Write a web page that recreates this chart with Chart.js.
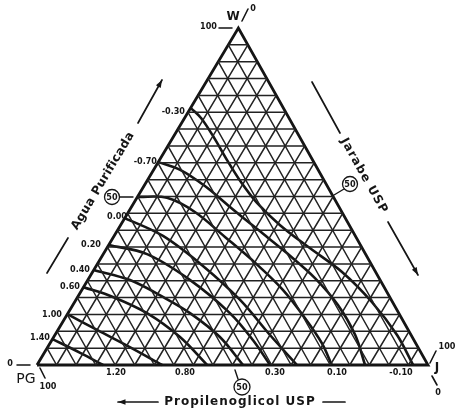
<!DOCTYPE html>
<html><head><meta charset="utf-8">
<script src="https://cdn.jsdelivr.net/npm/chart.js@4.4.0/dist/chart.umd.min.js"></script>
<style>html,body{margin:0;padding:0;background:#fff;}canvas{display:block;}</style>
</head><body>
<canvas id="c" width="458" height="413"></canvas>
<script>
// Ternary grid: every 5 %
const gridSteps = [5,10,15,20,25,30,35,40,45,50,55,60,65,70,75,80,85,90,95];
// Contour curves as compositions [Agua (W) %, Jarabe (J) %]; PG = 100 - W - J
const contourM030 = [[76.3,0],[73.3,4.2],[67.4,10.6],[60.8,17.3],[54.3,24.2],[48.1,31.5],[41.5,40.8],[34.7,51.9],[27.6,63.8],[18.7,76.0],[8.9,87.5],[0,96.2]];
const contourM070 = [[60.2,0],[57.9,6.8],[53.1,15.6],[46.9,25.2],[40.1,35.9],[33.2,46.8],[25.8,57.8],[17.8,67.8],[8.9,76.8],[0,83.9]];
const contour50 = [[49.9,0],[49.6,7.7],[45.4,17.0],[38.0,28.5],[30.3,40.2],[22.3,51.4],[13.9,61.4],[6.5,69.5],[0,75.4]];
const contour000 = [[43.6,0],[38.3,12.5],[29.4,27.3],[19.3,42.0],[8.9,55.0],[0,66.5]];
const contour020 = [[35.6,0],[32.9,11.2],[25.2,26.2],[15.4,41.4],[7.4,51.4],[0,59.6]];
const contour040 = [[28.2,0],[25.2,10.8],[20.2,21.8],[15.4,31.2],[8.3,42.5],[0,52.7]];
const contour060 = [[23.1,0],[20.2,9.0],[15.4,20.2],[8.3,32.3],[0,43.5]];
const contour100 = [[15.1,0],[10.4,10.0],[5.3,21.0],[0,32.0]];
const contour140 = [[7.7,0],[3.6,9.2],[0,16.9]];
const contours = [contourM030, contourM070, contour50, contour000, contour020, contour040, contour060, contour100, contour140];
// Edge labels
const leftLabels = ['-0.30','-0.70','0.00','0.20','0.40','0.60','1.00','1.40'];
const bottomLabels = ['1.20','0.80','0.30','0.10','-0.10'];
const axisTitles = ['Agua Purificada','Jarabe USP','Propilenoglicol USP'];
const vertexNames = ['W','J','PG'];

const APEX = 0.515; // horizontal position of the W vertex (scan is slightly skewed)
function tern(w, j){ return {x: j + w*APEX, y: w}; }

function family(fn){
  const pts = [];
  gridSteps.forEach(k => { const s = fn(k); pts.push(tern(s[0][0], s[0][1]), tern(s[1][0], s[1][1]), {x:null, y:null}); });
  return pts;
}
const gridW = family(k => [[k,0],[k,100-k]]);
const gridJ = family(k => [[0,k],[100-k,k]]);
const gridP = family(k => [[0,100-k],[100-k,0]]);
const outline = [tern(0,0), tern(0,100), tern(100,0), tern(0,0)];

const INK = '#151515';
const datasets = [];
[gridW, gridJ, gridP].forEach(d => datasets.push({data:d, showLine:true, borderColor:'#222', borderWidth:1.5, pointRadius:0, tension:0, spanGaps:false, clip:false}));
contours.forEach(c => datasets.push({data:c.map(p => tern(p[0], p[1])), showLine:true, borderColor:INK, borderWidth:2.6, pointRadius:0, tension:0.35, clip:false}));
datasets.push({data:outline, showLine:true, borderColor:INK, borderWidth:2.8, pointRadius:0, tension:0, clip:false});

const FONTN = "bold 9px 'DejaVu Sans Condensed','DejaVu Sans',sans-serif";
const FONTT = "bold 12px 'DejaVu Sans',sans-serif";

const deco = {
  id:'deco',
  afterDatasetsDraw(chart){
    const ctx = chart.ctx;
    ctx.save();
    ctx.fillStyle = INK; ctx.strokeStyle = INK; ctx.lineCap = 'round';
    const text = (t,x,y,font,align,sp) => { ctx.font = font; ctx.letterSpacing = sp || '0px'; ctx.textAlign = align || 'center'; ctx.textBaseline = 'middle'; ctx.fillText(t,x,y); ctx.letterSpacing = '0px'; };
    const line = (x1,y1,x2,y2,w) => { ctx.lineWidth = w || 1.6; ctx.beginPath(); ctx.moveTo(x1,y1); ctx.lineTo(x2,y2); ctx.stroke(); };
    const arrow = (x1,y1,x2,y2) => {
      line(x1,y1,x2,y2,1.7);
      const a = Math.atan2(y2-y1, x2-x1), s = 8;
      ctx.beginPath(); ctx.moveTo(x2,y2);
      ctx.lineTo(x2 - s*Math.cos(a-0.35), y2 - s*Math.sin(a-0.35));
      ctx.lineTo(x2 - s*Math.cos(a+0.35), y2 - s*Math.sin(a+0.35));
      ctx.closePath(); ctx.fill();
    };
    const circ = (x,y,r) => { ctx.lineWidth = 1.3; ctx.beginPath(); ctx.arc(x,y,r,0,2*Math.PI); ctx.stroke(); text('50',x,y+0.5,FONTN); };
    const rot = (t,x,y,ang,font,sp) => { ctx.save(); ctx.translate(x,y); ctx.rotate(ang); text(t,0,0,font,'center',sp); ctx.restore(); };

    // left edge labels
    const lp = [[185,112],[157,162],[127,217],[101,245],[90,270],[80,287],[62,315],[50,338]];
    leftLabels.forEach((t,i) => text(t, lp[i][0], lp[i][1], FONTN, 'right'));
    // bottom labels
    const bp = [116,185,275,337,401];
    bottomLabels.forEach((t,i) => text(t, bp[i], 373, FONTN));

    // vertex W
    text('100', 217, 27, FONTN, 'right'); line(219,28,232,28,1.5);
    text(vertexNames[0], 233, 17, "bold 12px 'DejaVu Sans',sans-serif");
    line(242,21,248,9,1.6); text('0', 253, 9, FONTN);
    // vertex PG
    text('0', 10, 364, FONTN); line(17,365,30,365,1.5);
    text(vertexNames[2], 26, 379, "14px 'DejaVu Sans',sans-serif");
    line(40,368,45,378,1.6); text('100', 48, 387, FONTN);
    // vertex J
    line(430,363,436,351,1.6); text('100', 447, 347, FONTN);
    text(vertexNames[1], 437, 368, "bold 12px 'DejaVu Sans',sans-serif");
    line(432,376,437,385,1.6); text('0', 438, 393, FONTN);

    // left axis title
    line(47,273,68,238,1.7); arrow(138,123,162,80);
    rot(axisTitles[0], 103, 181, -59.2*Math.PI/180, FONTT, '0.3px');
    circ(112,197,7.5); line(120,197,133,197,1.4);
    // right axis title
    line(312,82,340,133,1.7); arrow(388,222,418,275);
    rot(axisTitles[1], 364, 176, 60.8*Math.PI/180, FONTT, '1px');
    circ(350,184,7.5); line(334,195,344,189,1.4);
    // bottom axis title
    arrow(158,402,118,402); line(323,402,345,402,1.7);
    text(axisTitles[2], 240, 402, FONTT, 'center', '1px');
    circ(242,387,8); line(235,370,238,379,1.4);
    ctx.restore();
  }
};

new Chart(document.getElementById('c'), {
  type:'scatter',
  data:{datasets},
  options:{
    responsive:false, animation:false,
    layout:{padding:{left:37, right:30, top:28, bottom:48}},
    plugins:{legend:{display:false}, tooltip:{enabled:false}},
    scales:{
      x:{type:'linear', min:0, max:100, display:false},
      y:{type:'linear', min:0, max:100, display:false}
    }
  },
  plugins:[deco]
});
</script>
</body></html>
